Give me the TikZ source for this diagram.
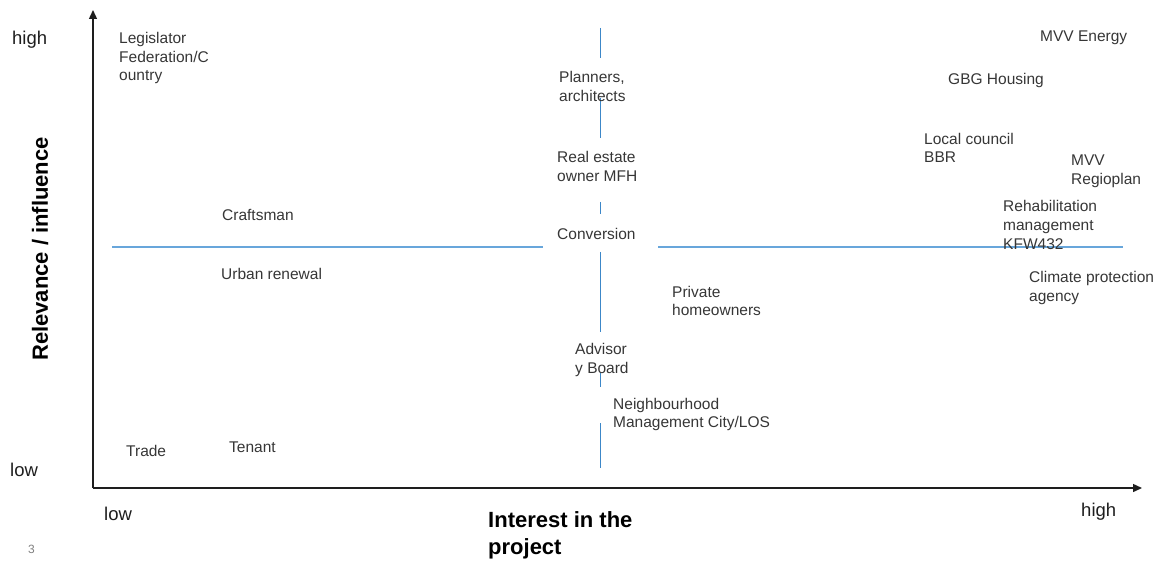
\documentclass[tikz,border=0pt]{standalone}
\usepackage{fontspec}
\setmainfont{Liberation Sans}
\usetikzlibrary{arrows.meta}
\definecolor{labelgray}{HTML}{363636}
\definecolor{axisgray}{HTML}{1E1E1E}
\definecolor{divblue}{HTML}{3C87C8}
\definecolor{divlight}{HTML}{68A6DB}
\tikzset{
  lbl/.style={anchor=west, inner sep=0pt, align=left, text=labelgray, yshift=-1.5pt,
    font=\fontsize{15.5}{18.7}\selectfont},
  ticklbl/.style={anchor=west, inner sep=0pt, text=axisgray, yshift=-1.5pt,
    font=\fontsize{18.5}{22}\selectfont},
  title/.style={inner sep=0pt, align=left, text=black,
    font=\fontsize{22}{27}\selectfont\bfseries},
  axis/.style={draw=axisgray, line width=1.4pt, -{Triangle[length=9pt,width=8pt]}},
  vdiv/.style={draw=divblue, line width=1pt},
  hdiv/.style={draw=divlight, line width=1.5pt}
}
\begin{document}
\begin{tikzpicture}[x=1pt, y=-1pt]
\useasboundingbox (0,0) rectangle (1159,561);

% axes
\coordinate (origin) at (93,488);
\coordinate (ytop) at (93,10);
\coordinate (xend) at (1142,488);
\draw[axis] (origin) -- (ytop);
\draw[axis] (origin) -- (xend);

% quadrant dividers
\coordinate (hA) at (112,247);  \coordinate (hB) at (543,247);
\coordinate (hC) at (658,247);  \coordinate (hD) at (1123,247);
\draw[hdiv] (hA) -- (hB);
\draw[hdiv] (hC) -- (hD);
\foreach \ya/\yb [count=\i] in {28/58, 98/138, 202/214, 252/332, 373/387, 423/468}{
  \coordinate (va\i) at (600,\ya);
  \coordinate (vb\i) at (600,\yb);
  \draw[vdiv] (va\i) -- (vb\i);
}

% axis labels
\node[ticklbl] (yhigh) at (12,38) {high};
\node[ticklbl] (ylow) at (10,468) {low};
\node[ticklbl] (xlow) at (104,512) {low};
\node[ticklbl] (xhigh) at (1081,510) {high};
\node[title, rotate=90] (ytitle) at (40,249) {Relevance / influence};
\node[title, anchor=west] (xtitle) at (488,535.5) {Interest in the\\project};
\node[anchor=west, inner sep=0pt, text=gray, font=\fontsize{12}{14}\selectfont] (pageno) at (28,549) {3};

% stakeholders
\node[lbl] (legislator) at (119,56.5) {Legislator\\Federation/C\\ountry};
\node[lbl] (planners) at (559,85) {Planners,\\architects};
\node[lbl] (realestate) at (557,165) {Real estate\\owner MFH};
\node[lbl] (conversion) at (557,232) {Conversion};
\node[lbl] (craftsman) at (222,213) {Craftsman};
\node[lbl] (urban) at (221,272) {Urban renewal};
\node[lbl] (private) at (672,299.5) {Private\\homeowners};
\node[lbl] (advisory) at (575,358.5) {Advisor\\y Board};
\node[lbl] (neighbour) at (613,413) {Neighbourhood\\Management City/LOS};
\node[lbl] (trade) at (126,449) {Trade};
\node[lbl] (tenant) at (229,446) {Tenant};
\node[lbl] (mvvenergy) at (1040,36) {MVV Energy};
\node[lbl] (gbg) at (948,79) {GBG Housing};
\node[lbl] (council) at (924,146.5) {Local council\\BBR};
\node[lbl] (regioplan) at (1071,169.5) {MVV\\Regioplan};
\node[lbl] (rehab) at (1003,223.5) {Rehabilitation\\management\\KFW432};
\node[lbl] (climate) at (1029,286.5) {Climate protection\\agency};
\end{tikzpicture}
\end{document}
